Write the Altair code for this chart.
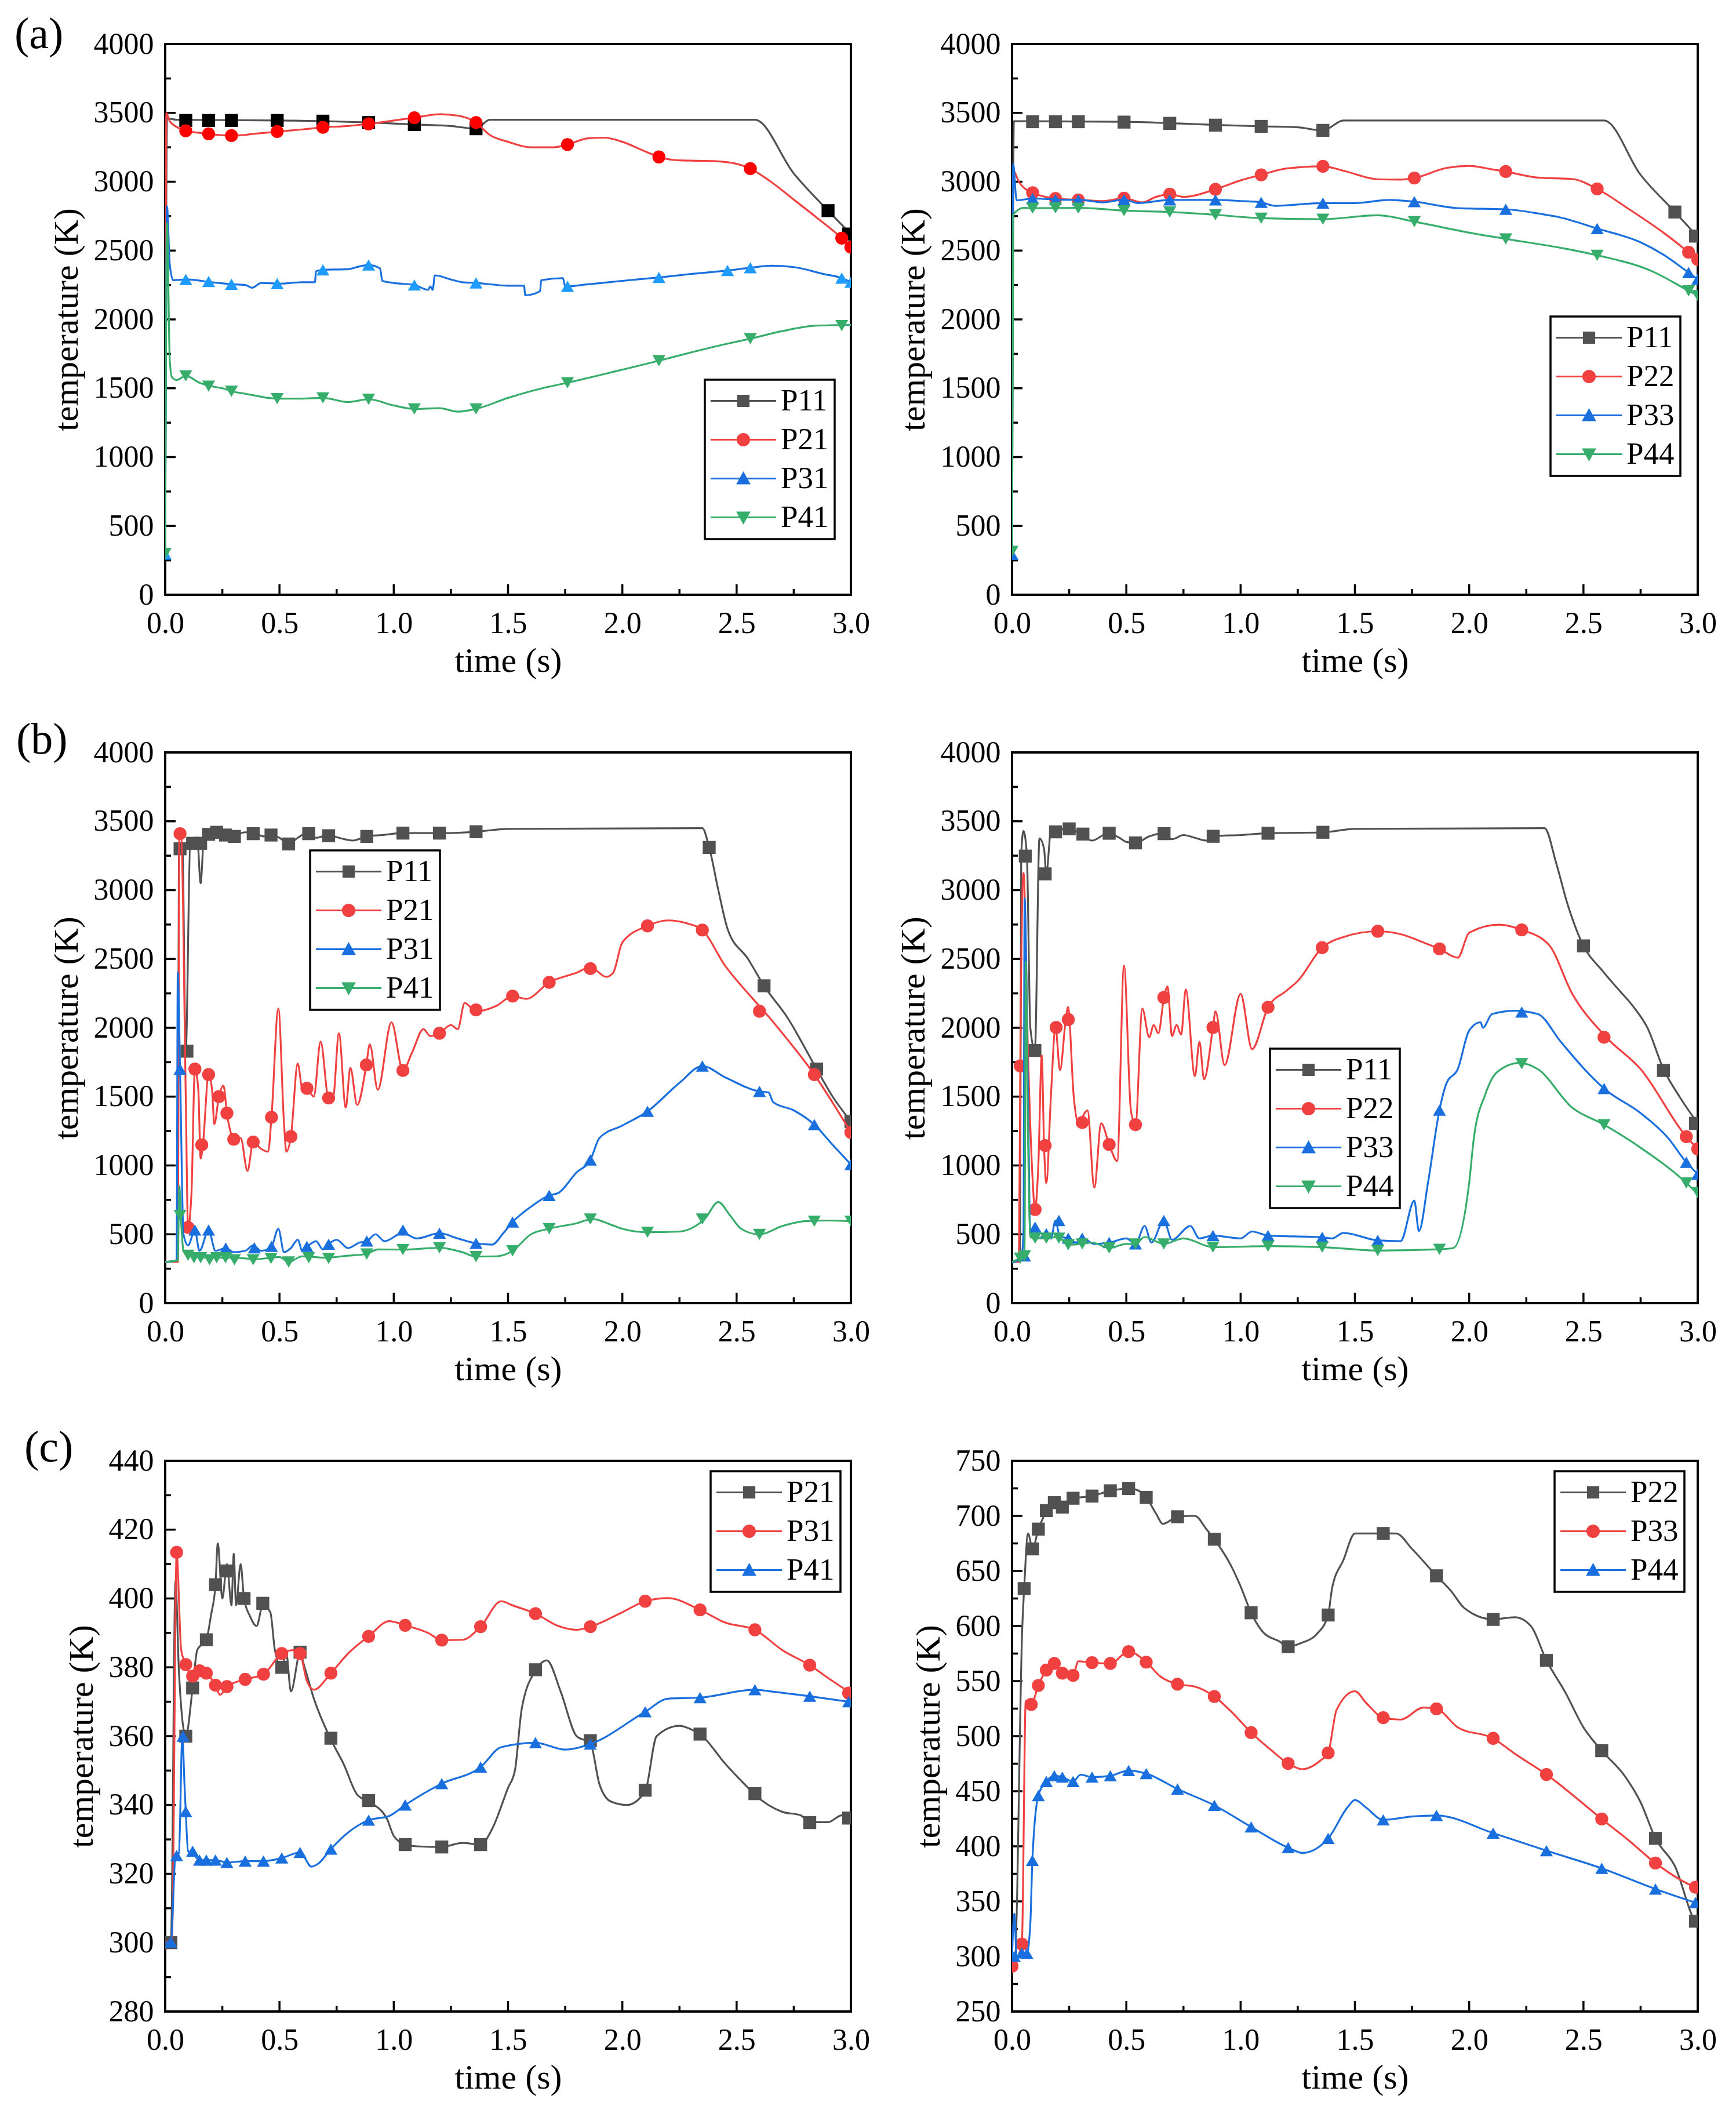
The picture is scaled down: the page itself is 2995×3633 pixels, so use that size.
import altair as alt
import pandas as pd

FONT = "Liberation Serif"
W, H = 1183, 950

# ---------------- axis ticks ----------------
X_MAJOR = [0.0, 0.5, 1.0, 1.5, 2.0, 2.5, 3.0]
X_MINOR = [0.25, 0.75, 1.25, 1.75, 2.25, 2.75]
Y_AB_MAJOR = [0, 500, 1000, 1500, 2000, 2500, 3000, 3500, 4000]
Y_AB_MINOR = [250, 750, 1250, 1750, 2250, 2750, 3250, 3750]
Y_C1_MAJOR = [280, 300, 320, 340, 360, 380, 400, 420, 440]
Y_C1_MINOR = [290, 310, 330, 350, 370, 390, 410, 430]
Y_C2_MAJOR = [250, 300, 350, 400, 450, 500, 550, 600, 650, 700, 750]
Y_C2_MINOR = [275, 325, 375, 425, 475, 525, 575, 625, 675, 725]

# ---------------- panel (a) left ----------------
A1_NAMES = ["P11", "P21", "P31", "P41"]
A1_P11 = [(0.0, 300), (0.008, 3460), (0.05, 3450), (0.5, 3445), (0.7, 3440), (0.9, 3430), (1.1, 3415),
          (1.25, 3405), (1.36, 3385), (1.42, 3450), (2.58, 3450), (2.75, 3060), (2.9, 2790), (3.0, 2620)]
A1_P11_M = [(0.09, 3445), (0.19, 3445), (0.29, 3445), (0.49, 3445), (0.69, 3440), (0.89, 3430),
            (1.09, 3415), (1.36, 3385), (2.9, 2790), (2.99, 2620)]
A1_P21 = [(0.0, 300), (0.005, 3500), (0.02, 3440), (0.06, 3390), (0.09, 3370), (0.15, 3355), (0.2, 3345),
          (0.3, 3335), (0.4, 3350), (0.5, 3365), (0.6, 3380), (0.69, 3395), (0.8, 3405), (0.89, 3420),
          (1.0, 3445), (1.09, 3465), (1.2, 3490), (1.28, 3480), (1.36, 3430), (1.42, 3340), (1.5, 3290),
          (1.6, 3250), (1.7, 3250), (1.76, 3270), (1.85, 3315), (1.92, 3320), (2.0, 3290), (2.1, 3220),
          (2.16, 3180), (2.25, 3155), (2.4, 3150), (2.5, 3130), (2.56, 3095), (2.65, 3000), (2.75, 2870),
          (2.85, 2740), (2.96, 2590), (3.0, 2525)]
A1_P21_M = [(0.09, 3370), (0.19, 3348), (0.29, 3335), (0.49, 3365), (0.69, 3395), (0.89, 3420), (1.09, 3465),
            (1.36, 3430), (1.76, 3270), (2.16, 3180), (2.56, 3095), (2.96, 2590), (3.0, 2525)]
A1_P31 = [(0.0, 290), (0.008, 2820), (0.02, 2400), (0.035, 2285), (0.1, 2290), (0.2, 2270), (0.3, 2255),
          (0.35, 2250), (0.38, 2230), (0.42, 2265), (0.5, 2260), (0.6, 2270), (0.655, 2270), (0.66, 2350),
          (0.69, 2360), (0.8, 2365), (0.85, 2385), (0.89, 2395), (0.94, 2370), (0.95, 2280), (1.0, 2265),
          (1.09, 2250), (1.15, 2215), (1.16, 2240), (1.17, 2215), (1.18, 2320), (1.25, 2290), (1.3, 2270),
          (1.36, 2265), (1.5, 2245), (1.57, 2245), (1.575, 2175), (1.64, 2205), (1.645, 2285), (1.74, 2300),
          (1.75, 2240), (1.85, 2255), (2.0, 2280), (2.16, 2305), (2.3, 2330), (2.46, 2355), (2.56, 2375),
          (2.65, 2390), (2.75, 2380), (2.88, 2330), (2.96, 2300), (3.0, 2270)]
A1_P31_M = [(0.0, 295), (0.09, 2290), (0.19, 2275), (0.29, 2255), (0.49, 2260), (0.69, 2360), (0.89, 2395),
            (1.09, 2250), (1.36, 2265), (1.76, 2240), (2.16, 2305), (2.46, 2355), (2.56, 2375), (2.96, 2300),
            (3.0, 2270)]
A1_P41 = [(0.0, 300), (0.008, 2700), (0.02, 1700), (0.03, 1580), (0.05, 1560), (0.09, 1590), (0.15, 1540),
          (0.2, 1515), (0.25, 1500), (0.3, 1475), (0.35, 1460), (0.4, 1445), (0.45, 1430), (0.49, 1425),
          (0.6, 1425), (0.69, 1430), (0.8, 1400), (0.89, 1420), (1.0, 1375), (1.09, 1350), (1.2, 1355),
          (1.28, 1330), (1.36, 1350), (1.5, 1430), (1.65, 1500), (1.76, 1540), (1.95, 1615), (2.05, 1655),
          (2.16, 1700), (2.3, 1760), (2.45, 1820), (2.56, 1860), (2.7, 1915), (2.85, 1955), (3.0, 1960)]
A1_P41_M = [(0.0, 300), (0.09, 1590), (0.19, 1515), (0.29, 1478), (0.49, 1425), (0.69, 1430), (0.89, 1420),
            (1.09, 1350), (1.36, 1350), (1.76, 1540), (2.16, 1700), (2.56, 1860), (2.96, 1955)]

# ---------------- panel (a) right ----------------
A2_NAMES = ["P11", "P22", "P33", "P44"]
A2_P11 = [(0.0, 300), (0.008, 3440), (0.5, 3435), (0.7, 3425), (0.9, 3412), (1.1, 3402), (1.25, 3395),
          (1.36, 3372), (1.45, 3445), (2.59, 3445), (2.75, 3050), (2.9, 2780), (3.0, 2600)]
A2_P11_M = [(0.09, 3436), (0.19, 3436), (0.29, 3436), (0.49, 3433), (0.69, 3424), (0.89, 3411), (1.09, 3402),
            (1.36, 3373), (2.9, 2780), (2.99, 2605)]
A2_P22 = [(0.0, 300), (0.005, 3080), (0.03, 3000), (0.09, 2920), (0.2, 2878), (0.3, 2868), (0.4, 2860),
          (0.49, 2880), (0.57, 2850), (0.63, 2890), (0.69, 2910), (0.75, 2890), (0.89, 2945), (1.0, 3010),
          (1.09, 3050), (1.2, 3096), (1.36, 3112), (1.45, 3080), (1.6, 3018), (1.7, 3015), (1.76, 3027),
          (1.9, 3100), (2.0, 3115), (2.1, 3090), (2.16, 3074), (2.3, 3030), (2.45, 3020), (2.56, 2948),
          (2.7, 2800), (2.85, 2630), (2.96, 2488), (3.0, 2435)]
A2_P22_M = [(0.09, 2920), (0.19, 2878), (0.29, 2868), (0.49, 2880), (0.69, 2910), (0.89, 2945), (1.09, 3050),
            (1.36, 3112), (1.76, 3027), (2.16, 3074), (2.56, 2948), (2.96, 2488), (3.0, 2435)]
A2_P33 = [(0.0, 293), (0.005, 3130), (0.02, 2865), (0.09, 2878), (0.2, 2870), (0.3, 2868), (0.4, 2850),
          (0.49, 2870), (0.55, 2845), (0.69, 2868), (0.89, 2868), (1.0, 2860), (1.09, 2850), (1.15, 2825),
          (1.36, 2845), (1.5, 2845), (1.65, 2868), (1.76, 2855), (1.95, 2808), (2.16, 2800), (2.3, 2770),
          (2.4, 2740), (2.56, 2660), (2.75, 2560), (2.85, 2470), (2.96, 2340), (3.0, 2292)]
A2_P33_M = [(0.0, 293), (0.09, 2878), (0.19, 2870), (0.29, 2868), (0.49, 2870), (0.69, 2868), (0.89, 2868),
            (1.09, 2850), (1.36, 2845), (1.76, 2855), (2.16, 2800), (2.56, 2660), (2.96, 2340), (3.0, 2292)]
A2_P44 = [(0.0, 315), (0.005, 2760), (0.05, 2810), (0.09, 2808), (0.3, 2810), (0.49, 2790), (0.69, 2780),
          (0.89, 2760), (1.09, 2735), (1.36, 2728), (1.6, 2756), (1.76, 2710), (2.0, 2630), (2.16, 2585),
          (2.4, 2520), (2.56, 2466), (2.8, 2350), (2.96, 2208), (3.0, 2173)]
A2_P44_M = [(0.0, 315), (0.09, 2808), (0.19, 2810), (0.29, 2808), (0.49, 2790), (0.69, 2780), (0.89, 2760),
            (1.09, 2735), (1.36, 2728), (1.76, 2710), (2.16, 2585), (2.56, 2466), (2.96, 2208), (3.0, 2173)]

# ---------------- panel (b) left ----------------
B1_NAMES = ["P11", "P21", "P31", "P41"]
B1_P11 = [(0.0, 300), (0.055, 300), (0.06, 3300), (0.075, 3330), (0.09, 1830), (0.11, 3360), (0.14, 3380),
          (0.155, 3050), (0.17, 3390), (0.19, 3405), (0.23, 3440), (0.27, 3420), (0.3, 3400), (0.35, 3420),
          (0.385, 3420), (0.43, 3390), (0.463, 3400), (0.5, 3380), (0.54, 3335), (0.58, 3380), (0.628, 3420),
          (0.66, 3380), (0.715, 3400), (0.76, 3380), (0.82, 3360), (0.882, 3390), (0.95, 3400), (1.04, 3414),
          (1.2, 3414), (1.36, 3424), (1.5, 3445), (2.35, 3450), (2.38, 3310), (2.42, 3000), (2.46, 2720),
          (2.55, 2500), (2.62, 2305), (2.72, 2080), (2.85, 1700), (2.92, 1500), (3.0, 1320)]
B1_P11_M = [(0.065, 3300), (0.095, 1830), (0.12, 3340), (0.155, 3340), (0.19, 3405), (0.225, 3420),
            (0.264, 3400), (0.303, 3390), (0.385, 3410), (0.463, 3400), (0.54, 3335), (0.628, 3410),
            (0.715, 3395), (0.882, 3390), (1.04, 3414), (1.2, 3414), (1.36, 3424), (2.38, 3310), (2.62, 2305),
            (2.85, 1700), (3.0, 1320)]
B1_P21 = [(0.0, 300), (0.055, 300), (0.062, 3410), (0.07, 3400), (0.09, 1500), (0.1, 550), (0.115, 800),
          (0.13, 1700), (0.145, 1550), (0.155, 1050), (0.165, 1150), (0.19, 1660), (0.205, 1550), (0.215, 1300),
          (0.235, 1500), (0.255, 1580), (0.27, 1380), (0.285, 1250), (0.3, 1190), (0.33, 1200), (0.36, 960),
          (0.385, 1170), (0.42, 1120), (0.45, 1100), (0.465, 1350), (0.495, 2140), (0.52, 1300), (0.53, 1100),
          (0.55, 1210), (0.58, 1740), (0.6, 1560), (0.62, 1560), (0.65, 1500), (0.68, 1900), (0.715, 1490),
          (0.735, 1500), (0.76, 1960), (0.79, 1420), (0.81, 1710), (0.84, 1440), (0.88, 1730), (0.895, 1880),
          (0.93, 1550), (0.99, 2040), (1.04, 1690), (1.08, 1820), (1.13, 1990), (1.16, 1940), (1.2, 1960),
          (1.25, 2020), (1.28, 1990), (1.31, 2180), (1.36, 2120), (1.45, 2160), (1.52, 2230), (1.58, 2210),
          (1.68, 2330), (1.8, 2400), (1.86, 2440), (1.93, 2370), (1.96, 2400), (2.0, 2620), (2.11, 2740),
          (2.2, 2780), (2.28, 2760), (2.35, 2710), (2.45, 2450), (2.55, 2250), (2.62, 2120), (2.72, 1920),
          (2.84, 1660), (2.93, 1430), (3.0, 1240)]
B1_P21_M = [(0.065, 3410), (0.1, 550), (0.13, 1700), (0.16, 1150), (0.19, 1660), (0.235, 1500), (0.27, 1380),
            (0.3, 1190), (0.385, 1170), (0.465, 1350), (0.55, 1210), (0.62, 1560), (0.715, 1490), (0.88, 1730),
            (1.04, 1690), (1.2, 1960), (1.36, 2130), (1.52, 2230), (1.68, 2330), (1.86, 2430), (2.11, 2740),
            (2.35, 2710), (2.6, 2120), (2.84, 1660), (3.0, 1240)]
B1_P31 = [(0.0, 300), (0.05, 310), (0.055, 2400), (0.065, 1700), (0.08, 500), (0.1, 420), (0.13, 530),
          (0.15, 380), (0.19, 530), (0.22, 380), (0.265, 400), (0.3, 370), (0.35, 380), (0.385, 420),
          (0.42, 380), (0.465, 410), (0.495, 540), (0.52, 370), (0.55, 400), (0.58, 460), (0.6, 380),
          (0.628, 420), (0.66, 450), (0.69, 390), (0.715, 430), (0.75, 460), (0.8, 400), (0.85, 440),
          (0.882, 450), (0.92, 500), (0.96, 450), (1.04, 510), (1.1, 470), (1.2, 508), (1.28, 470),
          (1.36, 434), (1.43, 425), (1.48, 510), (1.52, 589), (1.6, 700), (1.68, 782), (1.72, 800),
          (1.8, 950), (1.86, 1040), (1.9, 1200), (2.0, 1290), (2.11, 1393), (2.25, 1600), (2.35, 1722),
          (2.45, 1640), (2.6, 1538), (2.64, 1530), (2.66, 1460), (2.75, 1400), (2.84, 1297), (2.92, 1150),
          (3.0, 1007)]
B1_P31_M = [(0.065, 1700), (0.13, 531), (0.19, 531), (0.265, 400), (0.39, 402), (0.465, 412), (0.62, 412),
            (0.715, 428), (0.882, 451), (1.04, 531), (1.2, 508), (1.36, 434), (1.52, 589), (1.68, 782),
            (1.86, 1040), (2.11, 1393), (2.35, 1722), (2.6, 1538), (2.84, 1297), (3.0, 1007)]
B1_P41 = [(0.0, 300), (0.055, 310), (0.062, 850), (0.068, 640), (0.08, 380), (0.1, 348), (0.2, 330),
          (0.3, 330), (0.4, 320), (0.5, 335), (0.54, 300), (0.6, 340), (0.7, 330), (0.8, 345), (0.88, 357),
          (0.93, 390), (1.04, 389), (1.2, 402), (1.3, 370), (1.36, 338), (1.45, 340), (1.52, 380), (1.6, 500),
          (1.68, 541), (1.8, 580), (1.87, 611), (1.95, 570), (2.0, 540), (2.11, 515), (2.25, 520), (2.32, 560),
          (2.36, 611), (2.42, 734), (2.47, 640), (2.52, 540), (2.6, 499), (2.7, 560), (2.8, 595), (2.9, 600),
          (3.0, 595)]
B1_P41_M = [(0.065, 637), (0.1, 348), (0.126, 330), (0.155, 330), (0.194, 315), (0.225, 330), (0.264, 330),
            (0.303, 315), (0.385, 315), (0.463, 325), (0.54, 299), (0.628, 330), (0.715, 325), (0.882, 357),
            (1.04, 389), (1.2, 402), (1.36, 338), (1.52, 380), (1.68, 541), (1.86, 611), (2.11, 515),
            (2.35, 611), (2.6, 499), (2.84, 595), (3.0, 595)]

# ---------------- panel (b) right ----------------
B2_NAMES = ["P11", "P22", "P33", "P44"]
B2_P11 = [(0.0, 300), (0.035, 300), (0.04, 3250), (0.05, 3430), (0.065, 3250), (0.08, 2000), (0.1, 1835),
          (0.12, 3375), (0.14, 3300), (0.15, 3118), (0.17, 3423), (0.25, 3445), (0.3, 3407), (0.35, 3360),
          (0.42, 3413), (0.47, 3380), (0.5, 3350), (0.54, 3343), (0.6, 3390), (0.65, 3410), (0.7, 3370),
          (0.75, 3400), (0.8, 3380), (0.85, 3360), (0.88, 3391), (1.0, 3400), (1.12, 3413), (1.36, 3420),
          (1.5, 3445), (2.33, 3450), (2.38, 3200), (2.43, 2900), (2.5, 2595), (2.58, 2420), (2.65, 2284),
          (2.72, 2150), (2.78, 2000), (2.85, 1700), (2.92, 1500), (3.0, 1306)]
B2_P11_M = [(0.058, 3247), (0.1, 1835), (0.145, 3118), (0.19, 3423), (0.25, 3445), (0.31, 3407), (0.425, 3413),
            (0.54, 3343), (0.665, 3410), (0.88, 3391), (1.12, 3413), (1.36, 3420), (2.5, 2595), (2.85, 1690),
            (2.99, 1306)]
B2_P22 = [(0.0, 300), (0.03, 300), (0.036, 1723), (0.05, 3125), (0.07, 1800), (0.09, 900), (0.1, 680),
          (0.115, 1000), (0.13, 1800), (0.14, 1145), (0.15, 873), (0.17, 1500), (0.19, 2002), (0.21, 1691),
          (0.235, 2060), (0.245, 2150), (0.27, 1500), (0.29, 1312), (0.33, 1400), (0.36, 840), (0.39, 1306),
          (0.425, 1152), (0.46, 1033), (0.49, 2451), (0.52, 1400), (0.54, 1296), (0.57, 2140), (0.6, 1931),
          (0.62, 2020), (0.64, 1960), (0.665, 2220), (0.68, 2300), (0.7, 1940), (0.72, 2020), (0.74, 1950),
          (0.76, 2278), (0.8, 1649), (0.82, 1899), (0.84, 1626), (0.879, 2002), (0.89, 2120), (0.93, 1729),
          (1.0, 2246), (1.05, 1845), (1.12, 2149), (1.2, 2268), (1.25, 2340), (1.357, 2582), (1.45, 2659),
          (1.6, 2701), (1.7, 2680), (1.8, 2620), (1.87, 2573), (1.95, 2509), (2.0, 2690), (2.13, 2749),
          (2.23, 2711), (2.35, 2600), (2.45, 2250), (2.6, 1931), (2.75, 1700), (2.95, 1209), (3.0, 1120)]
B2_P22_M = [(0.036, 1723), (0.101, 680), (0.145, 1145), (0.193, 2002), (0.246, 2060), (0.307, 1312),
            (0.425, 1152), (0.54, 1296), (0.664, 2220), (0.879, 2002), (1.12, 2149), (1.357, 2582), (1.6, 2701),
            (1.87, 2573), (2.23, 2711), (2.59, 1931), (2.95, 1209), (3.0, 1120)]
B2_P33 = [(0.0, 295), (0.04, 327), (0.05, 500), (0.055, 2942), (0.07, 1500), (0.08, 500), (0.1, 552),
          (0.12, 470), (0.145, 504), (0.17, 470), (0.19, 600), (0.21, 480), (0.246, 472), (0.28, 440),
          (0.307, 472), (0.36, 430), (0.425, 440), (0.5, 470), (0.54, 430), (0.58, 560), (0.61, 440),
          (0.664, 600), (0.7, 460), (0.78, 560), (0.82, 470), (0.879, 491), (1.0, 470), (1.05, 520),
          (1.12, 491), (1.357, 478), (1.4, 470), (1.45, 510), (1.6, 456), (1.7, 450), (1.76, 744), (1.78, 523),
          (1.82, 876), (1.87, 1402), (1.9, 1594), (1.95, 1700), (2.0, 1980), (2.05, 2040), (2.06, 2000),
          (2.1, 2100), (2.2, 2124), (2.3, 2100), (2.4, 1900), (2.5, 1707), (2.59, 1559), (2.75, 1380),
          (2.87, 1200), (2.95, 1023), (3.0, 937)]
B2_P33_M = [(0.055, 343), (0.101, 552), (0.15, 504), (0.205, 600), (0.246, 472), (0.307, 472), (0.425, 440),
            (0.54, 430), (0.664, 600), (0.879, 491), (1.12, 491), (1.357, 478), (1.6, 456), (1.87, 1402),
            (2.23, 2114), (2.59, 1559), (2.95, 1023), (3.0, 937)]
B2_P44 = [(0.0, 300), (0.036, 327), (0.055, 343), (0.06, 2480), (0.07, 1200), (0.08, 480), (0.1, 472),
          (0.15, 472), (0.2, 480), (0.246, 424), (0.307, 430), (0.35, 440), (0.425, 401), (0.5, 430),
          (0.54, 430), (0.58, 480), (0.664, 430), (0.75, 470), (0.879, 407), (1.0, 410), (1.12, 414),
          (1.357, 407), (1.6, 382), (1.87, 391), (1.93, 400), (2.0, 873), (2.02, 1193), (2.07, 1514),
          (2.12, 1675), (2.22, 1745), (2.3, 1700), (2.45, 1421), (2.59, 1296), (2.75, 1129), (2.95, 873),
          (3.0, 792)]
B2_P44_M = [(0.036, 327), (0.055, 343), (0.101, 472), (0.15, 472), (0.205, 472), (0.246, 424), (0.307, 430),
            (0.425, 401), (0.54, 430), (0.664, 430), (0.879, 407), (1.12, 414), (1.357, 407), (1.6, 382),
            (1.87, 391), (2.23, 1739), (2.59, 1296), (2.95, 873), (3.0, 802)]

# ---------------- panel (c) left ----------------
C1_NAMES = ["P21", "P31", "P41"]
C1_P21 = [(0.0, 300), (0.025, 300), (0.045, 405), (0.06, 379), (0.09, 360), (0.12, 374), (0.14, 385),
          (0.18, 388), (0.2, 395), (0.22, 404), (0.23, 416), (0.25, 400), (0.27, 410), (0.29, 398), (0.3, 413),
          (0.31, 398), (0.33, 410), (0.345, 400), (0.37, 395), (0.4, 392), (0.427, 398), (0.46, 396),
          (0.48, 385), (0.51, 380), (0.53, 384), (0.55, 373), (0.59, 384), (0.61, 380), (0.65, 371),
          (0.725, 359), (0.78, 352), (0.84, 343), (0.89, 341), (0.97, 336), (1.0, 331), (1.05, 328.5),
          (1.1, 328), (1.21, 327.8), (1.3, 329), (1.38, 328.5), (1.43, 333), (1.5, 345), (1.53, 350),
          (1.56, 368), (1.62, 379), (1.67, 382), (1.73, 373), (1.8, 360), (1.86, 358), (1.9, 346), (1.95, 341),
          (2.02, 340), (2.1, 344), (2.15, 360), (2.25, 363), (2.3, 362), (2.34, 360.6), (2.45, 352),
          (2.55, 345), (2.58, 343), (2.7, 338), (2.78, 337), (2.82, 335), (2.9, 335), (2.96, 337), (3.0, 335)]
C1_P21_M = [(0.025, 300), (0.09, 360), (0.12, 374), (0.18, 388), (0.22, 404), (0.27, 408), (0.345, 400),
            (0.427, 398.6), (0.51, 380), (0.59, 384.4), (0.725, 359.4), (0.89, 341.3), (1.05, 328.5),
            (1.21, 327.8), (1.38, 328.5), (1.62, 379.3), (1.86, 358.7), (2.1, 344.3), (2.34, 360.6),
            (2.58, 343.3), (2.82, 334.9), (2.99, 336.2)]
C1_P31 = [(0.0, 300), (0.03, 301), (0.05, 413), (0.07, 385), (0.09, 381), (0.12, 377), (0.15, 379),
          (0.18, 378), (0.22, 375), (0.24, 372), (0.27, 374.4), (0.35, 376.5), (0.43, 378), (0.51, 384),
          (0.56, 385), (0.59, 384), (0.62, 376), (0.65, 373.5), (0.725, 378.3), (0.8, 384), (0.89, 389),
          (0.98, 393.4), (1.05, 392.2), (1.15, 390), (1.21, 387.9), (1.3, 388), (1.38, 391.8), (1.47, 399.2),
          (1.52, 398), (1.62, 395.6), (1.72, 392), (1.8, 390.9), (1.86, 391.8), (2.0, 396), (2.1, 399.2),
          (2.2, 400.1), (2.34, 396.7), (2.45, 393), (2.58, 390.9), (2.7, 385), (2.82, 380.6), (2.92, 376),
          (3.0, 372.5)]
C1_P31_M = [(0.05, 413.4), (0.09, 380.8), (0.12, 377.4), (0.15, 379), (0.18, 378.3), (0.22, 374.8),
            (0.27, 374.4), (0.35, 376.5), (0.43, 378), (0.51, 384), (0.59, 384), (0.725, 378.3), (0.89, 389),
            (1.05, 392.2), (1.21, 387.9), (1.38, 391.8), (1.62, 395.6), (1.86, 391.8), (2.1, 399.2),
            (2.34, 396.7), (2.58, 390.9), (2.82, 380.6), (2.99, 372.5)]
C1_P41 = [(0.0, 300), (0.025, 300.2), (0.045, 325.3), (0.06, 326), (0.075, 360), (0.085, 345), (0.09, 338),
          (0.1, 326.6), (0.12, 326), (0.15, 324), (0.18, 324), (0.22, 324), (0.27, 323.3), (0.35, 323.7),
          (0.43, 323.7), (0.51, 324.6), (0.59, 326.2), (0.64, 322.1), (0.67, 323), (0.725, 327.2), (0.8, 332),
          (0.89, 335.6), (0.98, 336.8), (1.05, 340), (1.21, 346.2), (1.38, 351), (1.47, 356.8), (1.62, 358.1),
          (1.75, 356.1), (1.86, 357.7), (2.1, 367.1), (2.2, 370.9), (2.34, 371.2), (2.58, 373.5),
          (2.65, 373), (2.82, 371.6), (2.99, 370)]
C1_P41_M = [(0.025, 300.2), (0.05, 325.3), (0.078, 360), (0.09, 338.1), (0.12, 326.6), (0.15, 324),
            (0.18, 324), (0.22, 324), (0.27, 323.3), (0.35, 323.7), (0.43, 323.7), (0.51, 324.6),
            (0.59, 326.2), (0.725, 327.2), (0.89, 335.6), (1.05, 340), (1.21, 346.2), (1.38, 351),
            (1.62, 358.1), (1.86, 357.7), (2.1, 367.1), (2.34, 371.2), (2.58, 373.5), (2.82, 371.6),
            (2.99, 370)]

# ---------------- panel (c) right ----------------
C2_NAMES = ["P22", "P33", "P44"]
C2_P22 = [(0.0, 300), (0.012, 300), (0.045, 600), (0.053, 634), (0.07, 684), (0.09, 670), (0.115, 688),
          (0.14, 700), (0.15, 704.8), (0.185, 712), (0.22, 708), (0.267, 716), (0.35, 718), (0.43, 722.8),
          (0.51, 724.8), (0.54, 724), (0.587, 716.8), (0.63, 702), (0.66, 692.8), (0.724, 699.2), (0.8, 700),
          (0.85, 688), (0.885, 678.8), (0.96, 654), (1.0, 636), (1.046, 612), (1.1, 594), (1.17, 586),
          (1.208, 581.2), (1.27, 585), (1.33, 592), (1.383, 610), (1.4, 634), (1.45, 660), (1.5, 684),
          (1.55, 684), (1.624, 684), (1.68, 684), (1.75, 670), (1.857, 645.6), (1.92, 632), (1.98, 616),
          (2.105, 606), (2.2, 608), (2.27, 600), (2.338, 568.8), (2.42, 540), (2.5, 508), (2.58, 486.8),
          (2.68, 464), (2.75, 440), (2.815, 407.2), (2.9, 382), (2.99, 332), (3.0, 330)]
C2_P22_M = [(0.053, 634), (0.09, 670), (0.115, 688), (0.15, 704.8), (0.185, 712), (0.22, 708), (0.267, 716),
            (0.35, 718), (0.43, 722.8), (0.51, 724.8), (0.587, 716.8), (0.724, 699.2), (0.885, 678.8),
            (1.046, 612), (1.208, 581.2), (1.383, 610), (1.624, 684), (1.857, 645.6), (2.105, 606),
            (2.338, 568.8), (2.58, 486.8), (2.815, 407.2), (2.99, 332)]
C2_P33 = [(0.0, 291.2), (0.043, 311.2), (0.06, 532), (0.084, 528.8), (0.115, 546), (0.15, 560), (0.185, 566),
          (0.22, 557.2), (0.267, 555.2), (0.29, 568), (0.35, 566.8), (0.43, 566), (0.51, 576.8),
          (0.587, 567.2), (0.65, 554), (0.724, 547.2), (0.8, 545), (0.885, 536), (0.97, 520), (1.046, 503.2),
          (1.13, 488), (1.208, 475.2), (1.27, 470), (1.35, 478), (1.383, 484.8), (1.42, 524), (1.5, 540.8),
          (1.55, 530), (1.624, 516.8), (1.7, 515), (1.8, 526), (1.857, 524.8), (1.95, 508), (2.105, 498),
          (2.2, 484), (2.338, 465.2), (2.58, 424.8), (2.7, 405), (2.815, 384.8), (2.99, 362.8), (3.0, 362)]
C2_P33_M = [(0.0, 291.2), (0.043, 311.2), (0.084, 528.8), (0.115, 546), (0.15, 560), (0.185, 566),
            (0.22, 557.2), (0.267, 555.2), (0.35, 566.8), (0.43, 566), (0.51, 576.8), (0.587, 567.2),
            (0.724, 547.2), (0.885, 536), (1.046, 503.2), (1.208, 475.2), (1.383, 484.8), (1.624, 516.8),
            (1.857, 524.8), (2.105, 498), (2.338, 465.2), (2.58, 424.8), (2.815, 384.8), (2.99, 362.8)]
C2_P44 = [(0.0, 300), (0.01, 338.8), (0.02, 300), (0.043, 303.2), (0.065, 302.8), (0.08, 330), (0.089, 387.2),
          (0.115, 446), (0.15, 458.8), (0.185, 464), (0.22, 462.8), (0.267, 458.8), (0.3, 465), (0.35, 462.8),
          (0.43, 464), (0.51, 468.8), (0.587, 466), (0.724, 452), (0.885, 437.2), (1.046, 417.6),
          (1.208, 398.8), (1.27, 394), (1.383, 407.2), (1.47, 436), (1.5, 442), (1.55, 435), (1.624, 424),
          (1.75, 427), (1.857, 428), (2.105, 412), (2.338, 396), (2.58, 380), (2.815, 361.2), (2.99, 348.8)]
C2_P44_M = [(0.01, 300), (0.043, 303.2), (0.065, 302.8), (0.089, 387.2), (0.115, 446), (0.15, 458.8),
            (0.185, 464), (0.22, 462.8), (0.267, 458.8), (0.35, 462.8), (0.43, 464), (0.51, 468.8),
            (0.587, 466), (0.724, 452), (0.885, 437.2), (1.046, 417.6), (1.208, 398.8), (1.383, 407.2),
            (1.624, 424), (1.857, 428), (2.105, 412), (2.338, 396), (2.58, 380), (2.815, 361.2), (2.99, 348.8)]

# ---------------- styles ----------------
GRAY, RED, BLUE, GREEN = "#515151", "#F14040", "#1A6FDF", "#37AD6B"
SHAPES4 = ["square", "circle", "triangle-up", "triangle-down"]
# legend glyphs (unit = 20 px): a line segment with the marker drawn in its middle
LINE_PATH = "M-2.83,-0.08H2.83V0.08H-2.83Z"
GLYPHS = {
    "square": LINE_PATH + "M-0.53,-0.53H0.53V0.53H-0.53Z",
    "circle": LINE_PATH + "M-0.58,0A0.58,0.58 0 1,1 0.58,0A0.58,0.58 0 1,1 -0.58,0Z",
    "triangle-up": LINE_PATH + "M0,-0.62L0.62,0.5L-0.62,0.5Z",
    "triangle-down": LINE_PATH + "M0,0.62L-0.62,-0.5L0.62,-0.5Z",
}


def make_panel(names, lines, marks, lcols, mcols, shapes, ydom, ymaj, ymin, legx, legy,
               tag=None, tag_dx=0, tag_dy=0):
    xs = alt.Scale(domain=[0, 3], nice=False, zero=False)
    ys = alt.Scale(domain=ydom, nice=False, zero=False)
    xax = alt.Axis(values=X_MAJOR, format=".1f", title="time (s)", labelFlush=False, labelOverlap=False,
                   labelPadding=24, titlePadding=10, ticks=False, domain=False, grid=False,
                   labelFont=FONT, titleFont=FONT)
    yax = alt.Axis(values=ymaj, format="d", title="temperature (K)", labelFlush=False, labelOverlap=False,
                   labelPadding=20, titlePadding=15, ticks=False, domain=False, grid=False,
                   labelFont=FONT, titleFont=FONT)

    def X(f):
        return alt.X(f, type="quantitative", scale=xs, axis=xax)

    def Y(f):
        return alt.Y(f, type="quantitative", scale=ys, axis=yax)

    layers = []
    for vals, ln in ((X_MAJOR[1:-1], 18), (X_MINOR, 10)):
        layers.append(alt.Chart(pd.DataFrame({"v": vals})).mark_rule(color="black", strokeWidth=3.5).encode(
            x=X("v"), y=alt.value(H), y2=alt.value(H - ln)))
    for vals, ln in ((ymaj[1:-1], 18), (ymin, 10)):
        layers.append(alt.Chart(pd.DataFrame({"v": vals})).mark_rule(color="black", strokeWidth=3.5).encode(
            y=Y("v"), x=alt.value(0), x2=alt.value(ln)))

    for i in range(len(names)):
        ldf = pd.DataFrame(lines[i], columns=["t", "T"])
        mdf = pd.DataFrame(marks[i], columns=["t", "T"])
        layers.append(alt.Chart(ldf).mark_line(color=lcols[i], strokeWidth=3.2, clip=True,
                                               interpolate="monotone").encode(x=X("t"), y=Y("T")))
        layers.append(alt.Chart(mdf).mark_point(shape=shapes[i], filled=True, size=500, color=mcols[i],
                                                opacity=1, clip=True).encode(x=X("t"), y=Y("T")))

    leg = alt.Legend(title=None, orient="none", legendX=legx, legendY=legy, labelFont=FONT, labelFontSize=53,
                     labelColor="black", symbolSize=1600, symbolOffset=30, labelOffset=38, rowPadding=13,
                     padding=10, strokeColor="black", fillColor="white", symbolStrokeWidth=0,
                     symbolOpacity=1, labelLimit=400)
    legdf = pd.DataFrame({"series": names})
    layers.append(alt.Chart(legdf).mark_point(filled=True, opacity=0, size=1600).encode(
        color=alt.Color("series:N", scale=alt.Scale(domain=names, range=lcols), legend=leg),
        shape=alt.Shape("series:N", scale=alt.Scale(domain=names, range=[GLYPHS[s] for s in shapes]),
                        legend=leg)))

    ch = alt.layer(*layers).properties(width=W, height=H)
    if tag:
        ch = ch.properties(title=alt.TitleParams(text=tag, anchor="start", frame="group", font=FONT,
                                                 fontSize=76, fontWeight="normal", color="black",
                                                 baseline="middle", offset=0, dx=tag_dx, dy=tag_dy))
    return ch


A1 = make_panel(A1_NAMES, [A1_P11, A1_P21, A1_P31, A1_P41], [A1_P11_M, A1_P21_M, A1_P31_M, A1_P41_M],
                [GRAY, RED, BLUE, GREEN], ["#000000", "#FF0000", "#1E9BFF", GREEN], SHAPES4,
                [0, 4000], Y_AB_MAJOR, Y_AB_MINOR, 931, 579, "(a)", -260, 86)
A2 = make_panel(A2_NAMES, [A2_P11, A2_P22, A2_P33, A2_P44], [A2_P11_M, A2_P22_M, A2_P33_M, A2_P44_M],
                [GRAY, RED, BLUE, GREEN], [GRAY, RED, BLUE, GREEN], SHAPES4,
                [0, 4000], Y_AB_MAJOR, Y_AB_MINOR, 929, 470)
B1 = make_panel(B1_NAMES, [B1_P11, B1_P21, B1_P31, B1_P41], [B1_P11_M, B1_P21_M, B1_P31_M, B1_P41_M],
                [GRAY, RED, BLUE, GREEN], [GRAY, RED, BLUE, GREEN], SHAPES4,
                [0, 4000], Y_AB_MAJOR, Y_AB_MINOR, 250, 169, "(b)", -257, 81)
B2 = make_panel(B2_NAMES, [B2_P11, B2_P22, B2_P33, B2_P44], [B2_P11_M, B2_P22_M, B2_P33_M, B2_P44_M],
                [GRAY, RED, BLUE, GREEN], [GRAY, RED, BLUE, GREEN], SHAPES4,
                [0, 4000], Y_AB_MAJOR, Y_AB_MINOR, 445, 511)
C1 = make_panel(C1_NAMES, [C1_P21, C1_P31, C1_P41], [C1_P21_M, C1_P31_M, C1_P41_M],
                [GRAY, RED, BLUE], [GRAY, RED, BLUE], SHAPES4[:3],
                [280, 440], Y_C1_MAJOR, Y_C1_MINOR, 941, 18, "(c)", -243, 80)
C2 = make_panel(C2_NAMES, [C2_P22, C2_P33, C2_P44], [C2_P22_M, C2_P33_M, C2_P44_M],
                [GRAY, RED, BLUE], [GRAY, RED, BLUE], SHAPES4[:3],
                [250, 750], Y_C2_MAJOR, Y_C2_MINOR, 936, 18)

chart = alt.concat(A1, A2, B1, B2, C1, C2, columns=2, spacing={"row": 272, "column": 278},
                   bounds="flush").resolve_scale(color="independent", shape="independent").properties(
    padding={"left": 15, "top": 12, "right": 5, "bottom": 5}
).configure_view(stroke="black", strokeWidth=4).configure_axis(
    labelFont=FONT, labelFontSize=52, labelColor="black", titleFont=FONT, titleFontSize=60,
    titleFontWeight="normal", titleColor="black", tickSize=0
).configure_legend(strokeWidth=3.5)

chart.save("out.html", embed_options={"renderer": "svg", "actions": False})
